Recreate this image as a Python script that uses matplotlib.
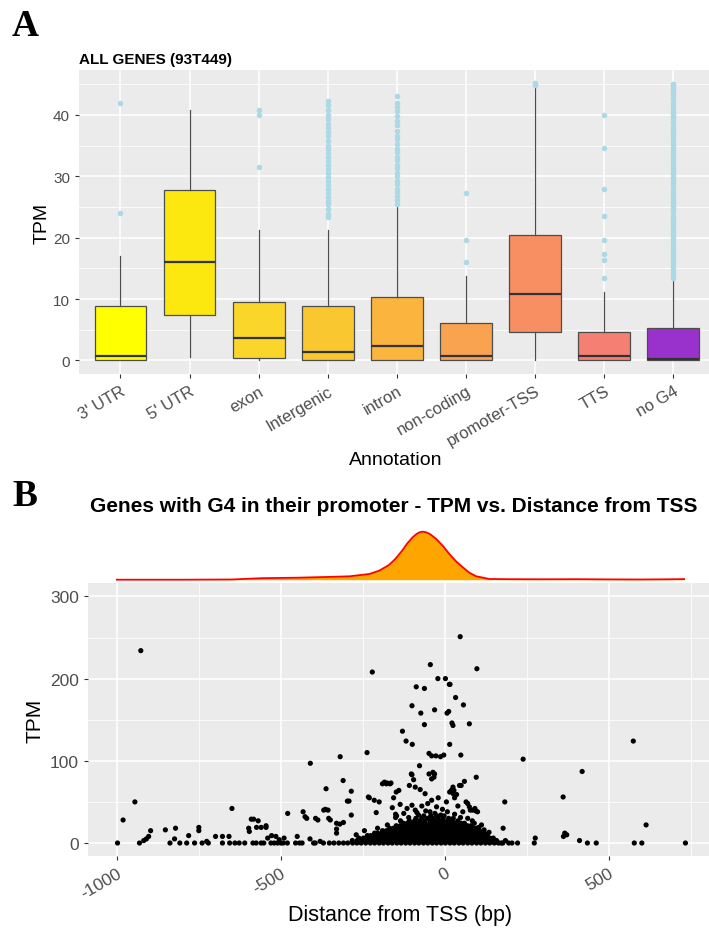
import numpy as np
import matplotlib
matplotlib.use("Agg")
import matplotlib.pyplot as plt

plt.rcParams['font.family'] = ['Liberation Sans', 'DejaVu Sans']

# ---------------- panel A data (box stats) ----------------
annotations = ["3' UTR", "5' UTR", "exon", "Intergenic", "intron",
               "non-coding", "promoter-TSS", "TTS", "no G4"]
box_colors = ["#FFFF00", "#FCE80F", "#FAD52A", "#F9C72F", "#FBB43E",
              "#F9A24F", "#F88F63", "#F67F73", "#9932CC"]
q1 = [0.0, 7.4, 0.4, 0.0, 0.1, 0.0, 4.6, 0.0, 0.0]
med = [0.7, 16.1, 3.6, 1.4, 2.4, 0.8, 10.8, 0.7, 0.3]
q3 = [8.8, 27.7, 9.5, 8.8, 10.3, 6.1, 20.4, 4.7, 5.3]
whis_lo = [0.0, 0.5, 0.0, 0.0, 0.0, 0.0, 0.0, 0.0, 0.0]
whis_hi = [17.0, 40.8, 21.3, 21.3, 25.2, 13.7, 44.6, 11.2, 13.3]
outliers = [
    [24.0, 41.9],
    [],
    [31.5, 40.0, 40.8],
    [23.3, 23.9, 24.6, 25.4, 26.0, 26.7, 27.3, 28.0, 28.6, 29.3, 29.9, 30.5,
     31.2, 31.8, 32.5, 33.1, 33.8, 34.4, 35.0, 35.8, 36.5, 37.2, 37.8, 38.5,
     39.4, 40.0, 40.8, 41.6, 42.2],
    [25.5, 26.1, 26.8, 27.4, 28.0, 28.7, 29.3, 30.0, 30.6, 31.3, 31.9, 32.6,
     33.2, 33.9, 34.5, 35.2, 36.0, 36.6, 37.4, 38.3, 39.0, 39.8, 40.6, 41.3,
     42.0, 43.1],
    [16.1, 19.6, 27.2],
    [44.8, 45.0, 45.2],
    [13.5, 16.3, 17.4, 19.7, 23.5, 27.9, 34.6, 40.0],
    [13.5, 14.0, 14.4, 14.9, 15.4, 15.9, 16.4, 16.9, 17.3, 17.8, 18.3, 18.8,
     19.3, 19.8, 20.2, 20.7, 21.2, 21.7, 22.2, 22.7, 23.1, 23.6, 24.1, 24.6,
     25.1, 25.6, 26.0, 26.5, 27.0, 27.5, 28.0, 28.5, 28.9, 29.4, 29.9, 30.4,
     30.9, 31.4, 31.8, 32.3, 32.8, 33.3, 33.8, 34.3, 34.7, 35.2, 35.7, 36.2,
     36.7, 37.2, 37.6, 38.1, 38.6, 39.1, 39.6, 40.1, 40.5, 41.0, 41.5, 42.0,
     42.5, 43.0, 43.4, 43.9, 44.4, 44.9, 45.1],
]

# ---------------- panel B data ----------------
# scattered genes (distance from TSS in bp, TPM)
sparse_points = [
    (-927, 234), (47, 251), (-44, 217), (98, 212), (-221, 208), (-21, 200),
    (-87, 190), (-62, 188), (14, 193), (33, 177), (-100, 167), (57, 168),
    (-31, 162), (-73, 158), (7, 158), (-62, 144), (22, 146), (25, 143),
    (75, 145), (-129, 136), (-118, 124), (-99, 120), (15, 120), (-237, 110),
    (-319, 105), (-410, 97), (-48, 109), (-40, 106), (-27, 106), (-13, 105),
    (-3, 107), (49, 107), (239, 102), (575, 124), (419, 87), (-77, 94),
    (-102, 84), (-31, 84), (-48, 84), (-40, 78), (96, 80), (-310, 76),
    (-362, 66), (-285, 63), (-184, 74), (-176, 73), (-164, 73), (-233, 56),
    (-297, 51), (-369, 40), (-356, 40), (-432, 38), (-479, 36), (-426, 32),
    (-394, 30), (-354, 30), (-285, 34), (-309, 25), (-330, 24), (-649, 42),
    (-945, 50), (-981, 28), (183, 50), (361, 56), (614, 22), (178, 18),
    (60, 75), (50, 70), (45, 70), (28, 64), (26, 60), (65, 50), (75, 44),
    (78, 40), (92, 42), (95, 39), (90, 24), (104, 19), (-421, 30),
    (-292, 51), (-387, 28), (-364, 41), (-349, 28), (-320, 23), (-330, 17),
    (-330, 12), (-190, 72), (-178, 72), (-167, 72), (-230, 55), (-215, 52),
    (-200, 50), (-209, 37), (-156, 55), (-148, 62), (-140, 64), (-147, 33),
    (-150, 31), (-100, 83), (-95, 77), (-108, 70), (-90, 68), (-75, 65),
    (-36, 86), (-33, 80), (15, 62), (25, 68), (36, 59), (20, 64), (30, 55),
    (70, 48), (85, 40), (100, 38), (-52, 48), (-40, 52), (-25, 44),
    (-7, 41), (-115, 42), (-100, 46), (-85, 37), (-90, 40), (-160, 43),
    (-136, 47), (-150, 35), (12, 160), (2, 200), (16, 193), (-60, 60),
    (-20, 55), (5, 50), (-70, 45), (40, 45), (55, 38), (-45, 38), (-125, 36),
    (-110, 31), (-80, 34), (-58, 39), (-30, 36), (-12, 34), (8, 38),
    (30, 35), (48, 31), (70, 30), (84, 27), (-135, 27), (-175, 22),
    (-205, 18), (-245, 15), (112, 22), (120, 16), (135, 13), (-270, 10),
]

# low-TPM genes spread along the promoter region
low_points = [
    (-998, 0), (-931, 0), (-918, 3), (-910, 5), (-903, 8), (-897, 15),
    (-852, 16), (-838, 0), (-821, 18), (-824, 5), (-808, 0), (-787, 0),
    (-781, 9), (-763, 0), (-750, 19), (-750, 15), (-740, 0), (-726, 2),
    (-721, 0), (-699, 8), (-678, 8), (-678, 0), (-658, 8), (-656, 0),
    (-640, 0), (-627, 0), (-610, 0), (-598, 18), (-590, 29), (-583, 29),
    (-569, 27), (-596, 14), (-574, 19), (-560, 19), (-545, 19), (-545, 21),
    (-530, 0), (-520, 0), (-510, 0), (-500, 0), (-493, 0), (-515, 8),
    (-505, 4), (-480, 0), (-490, 6), (-455, 0), (-443, 0), (-435, 0),
    (-450, 8), (-411, 5), (-400, 0), (-395, 0), (-380, 2), (-370, 0),
    (-560, 0), (-575, 0), (-585, 0), (-552, 0), (-540, 6), (-528, 9),
    (222, 0), (273, 0), (276, 6), (362, 8), (366, 12), (372, 10),
    (411, 3), (435, 0), (462, 0), (578, 0), (601, 0), (734, 0),
    (185, 3), (195, 0), (205, 0), (160, 1), (172, 0),
]

# dense cloud around the TSS, one list of distances per TPM level
cloud_tpm_levels = [0, 3, 6, 9, 12, 15, 18, 21, 24, 27, 30, 33]
cloud_dist_rows = [
    [-352, -338, -323, -309, -296, -281, -268, -255, -241, -227, -214, -200,
     -187, -173, -160, -146, -133, -119, -106, -92, -79, -65, -52, -38, -25,
     -11, 2, 16, 29, 43, 56, 70, 83, 97, 110, 124, 137, 151, 164, 177],
    [-282, -267, -252, -239, -224, -211, -197, -183, -170, -156, -142, -129,
     -115, -101, -88, -74, -61, -47, -33, -20, -6, 8, 21, 35, 49, 62, 76, 90,
     103, 117, 131, 145, 158],
    [-262, -248, -233, -220, -206, -192, -178, -165, -151, -137, -124, -110,
     -96, -83, -69, -55, -42, -28, -14, 0, 13, 27, 41, 54, 68, 82, 95, 109,
     123, 137, 148],
    [-236, -226, -212, -199, -185, -171, -158, -144, -130, -117, -103, -89,
     -76, -62, -48, -35, -21, -7, 6, 20, 34, 47, 61, 75, 88, 102, 116, 130],
    [-214, -204, -190, -177, -163, -149, -136, -122, -108, -95, -81, -67,
     -54, -40, -26, -13, 1, 15, 28, 42, 56, 69, 83, 97, 110, 121],
    [-190, -178, -165, -151, -137, -124, -110, -96, -83, -69, -55, -42, -28,
     -14, -1, 13, 27, 40, 54, 68, 81, 95, 106],
    [-168, -156, -143, -129, -115, -102, -88, -74, -61, -47, -33, -20, -6, 8,
     21, 35, 49, 62, 76, 90, 99],
    [-148, -136, -122, -109, -95, -81, -68, -54, -40, -27, -13, 1, 14, 28,
     42, 55, 69, 80],
    [-126, -114, -101, -87, -73, -60, -46, -32, -19, -5, 9, 22, 36, 50, 60],
    [-108, -92, -76, -61, -45, -31, -18, -4, 10, 24, 40],
    [-88, -70, -52, -36, -20, -5, 12, 26],
    [-64, -43, -24, -2],
]

# marginal density of distance
dens_x = [-1000, -800, -650, -560, -450, -350, -290, -230, -200, -170, -150,
          -130, -115, -98, -85, -75, -68, -58, -45, -26, -5, 14, 34, 54, 75,
          96, 136, 200, 300, 400, 500, 600, 680, 730]
dens_y = [0.0, 0.0, 0.2, 1.5, 2.0, 2.8, 3.4, 5.7, 9.0, 14.7, 21.0,
          29.0, 36.0, 42.4, 46.0, 47.6, 48.0, 47.6, 45.6, 40.7, 33.5, 25.7,
          18.5, 12.7, 7.0, 3.4, 0.7, 0.5, 0.4, 0.5, 0.3, 0.2, 0.4, 0.6]

W, H = 709, 929
fig = plt.figure(figsize=(W / 100, H / 100), dpi=100)


def frac_box(l, t, r, b):
    return [l / W, 1 - b / H, (r - l) / W, (b - t) / H]


def gg_style(ax, tick_size):
    ax.set_facecolor("#EBEBEB")
    for s in ax.spines.values():
        s.set_visible(False)
    ax.grid(True, which="major", color="white", lw=1.1, zorder=0)
    ax.grid(True, which="minor", color="white", lw=0.55, zorder=0)
    ax.set_axisbelow(True)
    ax.tick_params(which="major", length=3, color="#333333", width=0.8,
                   labelsize=tick_size, labelcolor="#4D4D4D")
    ax.tick_params(which="minor", length=0)


# ---------------- panel A ----------------
axA = fig.add_axes(frac_box(79, 71, 712, 375))
gg_style(axA, 11)
stats = []
for i in range(len(annotations)):
    stats.append(dict(q1=q1[i], med=med[i], q3=q3[i], whislo=whis_lo[i],
                      whishi=whis_hi[i], fliers=outliers[i]))
bp = axA.bxp(stats, positions=range(1, 10), widths=0.75, patch_artist=True,
             showcaps=False,
             boxprops=dict(edgecolor="#4D4D4D", linewidth=0.9),
             whiskerprops=dict(color="#4D4D4D", linewidth=0.9),
             medianprops=dict(color="#333333", linewidth=1.6),
             flierprops=dict(marker="o", markerfacecolor="#ADD8E6",
                             markeredgecolor="none", markersize=4))
for patch, c in zip(bp["boxes"], box_colors):
    patch.set_facecolor(c)
axA.set_xlim(0.4, 9.56)
axA.set_ylim(-2.2, 47.3)
axA.set_yticks([0, 10, 20, 30, 40])
axA.set_yticks([5, 15, 25, 35, 45], minor=True)
axA.set_xticks(range(1, 10))
axA.set_xticklabels(annotations, rotation=30, ha="right", rotation_mode="anchor",
                    fontsize=12)
axA.set_ylabel("TPM", fontsize=14, labelpad=2)
axA.set_xlabel("Annotation", fontsize=14, labelpad=2)
fig.text(79 / W, 1 - 60 / H, "ALL GENES (93T449)", fontsize=11,
         fontweight="bold", ha="left", va="center")
fig.text(12 / W, 1 - 26 / H, "A", fontsize=27, fontweight="bold",
         family="Liberation Serif", ha="left", va="center")

# ---------------- panel B ----------------
axB = fig.add_axes(frac_box(88, 584, 712, 857))
gg_style(axB, 12.5)
cloud_dist = []
cloud_tpm = []
for lvl, row in zip(cloud_tpm_levels, cloud_dist_rows):
    cloud_dist += row
    cloud_tpm += [lvl] * len(row)
pts = sparse_points + low_points
all_dist = [p[0] for p in pts] + cloud_dist
all_tpm = [p[1] for p in pts] + cloud_tpm
axB.scatter(all_dist, all_tpm, s=14, color="black", edgecolors="none", zorder=3)
axB.set_xlim(-1088, 815)
axB.set_ylim(-15.8, 316.3)
axB.set_xticks([-1000, -500, 0, 500])
axB.set_xticks([-750, -250, 250, 750], minor=True)
axB.set_yticks([0, 100, 200, 300])
axB.set_yticks([50, 150, 250], minor=True)
axB.set_xticklabels(["-1000", "-500", "0", "500"], rotation=30, ha="right",
                    rotation_mode="anchor")
axB.set_ylabel("TPM", fontsize=15, labelpad=4)
axB.set_xlabel("Distance from TSS (bp)", fontsize=15.5, labelpad=3)

axD = fig.add_axes(frac_box(88, 526, 712, 583))
axD.fill_between(dens_x, dens_y, 0, color="#FFA500", lw=0)
axD.plot(dens_x, dens_y, color="red", lw=1.3)
axD.set_xlim(-1088, 815)
axD.set_ylim(-2.3, 54.7)
axD.axis("off")

fig.text(394 / W, 1 - 507 / H,
         "Genes with G4 in their promoter - TPM vs. Distance from TSS",
         fontsize=15, fontweight="bold", ha="center", va="center")
fig.text(12 / W, 1 - 497 / H, "B", fontsize=27, fontweight="bold",
         family="Liberation Serif", ha="left", va="center")

fig.savefig("out.png", dpi=100)
